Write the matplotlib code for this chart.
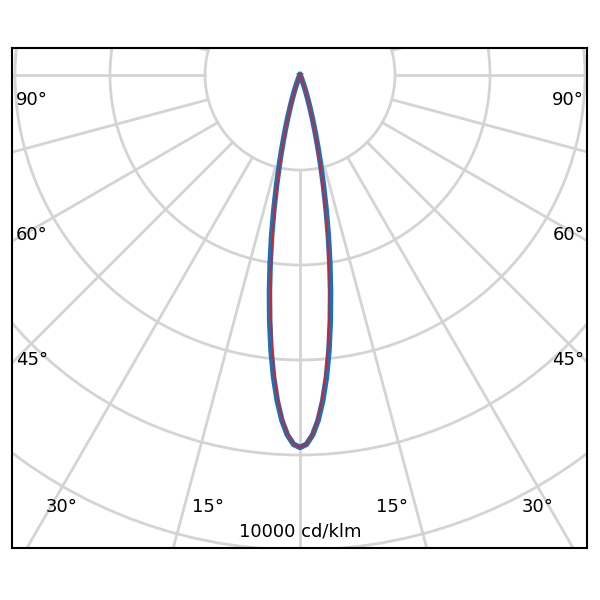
import numpy as np
import matplotlib.pyplot as plt
from matplotlib.patches import Circle

# luminous intensity (cd/klm) vs angle from nadir (deg)
angles = [0, 1, 2, 3, 4, 5, 6, 7, 8, 9, 10, 11, 12, 13, 14, 15, 16, 17, 18, 19, 20, 25, 30]
c0_180 = [9800, 9720, 9480, 9100, 8590, 7980, 7290, 6540, 5780, 5020, 4300, 3600, 2970,
          2410, 1920, 1510, 1160, 880, 660, 490, 360, 80, 0]
c90_270 = [9800, 9710, 9450, 9040, 8480, 7820, 7080, 6300, 5520, 4770, 4070, 3400, 2800,
           2270, 1810, 1420, 1090, 830, 620, 460, 340, 75, 0]
ring_step = 2500
left_labels = ["90°", "60°", "45°"]
bottom_labels = ["30°", "15°", "15°", "30°"]
unit_label = "10000 cd/klm"

px = 95.0 / ring_step  # pixels per cd/klm

fig = plt.figure(figsize=(6, 6), dpi=100)
ax = fig.add_axes([12 / 600, 52 / 600, 575 / 600, 500 / 600])
ax.set_xlim(-288, 287)
ax.set_ylim(-473, 27)
ax.set_aspect("auto")
ax.set_xticks([])
ax.set_yticks([])
for s in ax.spines.values():
    s.set_linewidth(1.5)
    s.set_color("black")

grid = "#d4d4d4"
for k in range(1, 8):
    ax.add_patch(Circle((0, 0), k * 95, fill=False, ec=grid, lw=2, zorder=1))
for a in range(-180, 180, 15):
    t = np.radians(a)
    ax.plot([95 * np.sin(t), 800 * np.sin(t)], [-95 * np.cos(t), -800 * np.cos(t)],
            color=grid, lw=2, zorder=1)


def curve(vals):
    th = np.radians(np.concatenate([-np.array(angles[::-1]), angles[1:]]))
    r = np.concatenate([vals[::-1], vals[1:]]) * px
    return r * np.sin(th), -r * np.cos(th)


x, y = curve(np.array(c0_180, float))
ax.plot(x, y, color="#1f6fb4", lw=4, zorder=2, solid_joinstyle="round")
x, y = curve(np.array(c90_270, float))
ax.plot(x, y, color="#d8202a", lw=1.2, zorder=3)

fs = 13
for lab, yy in zip(left_labels, [-25, -160, -285]):
    ax.text(-284, yy, lab, fontsize=fs, va="center", ha="left")
    ax.text(284, yy, lab, fontsize=fs, va="center", ha="right")
for lab, xx in zip(bottom_labels, [-238, -92, 92, 238]):
    ax.text(xx, -432, lab, fontsize=fs, va="center", ha="center")
ax.text(0, -457, unit_label, fontsize=fs, va="center", ha="center")

fig.savefig("out.png")
